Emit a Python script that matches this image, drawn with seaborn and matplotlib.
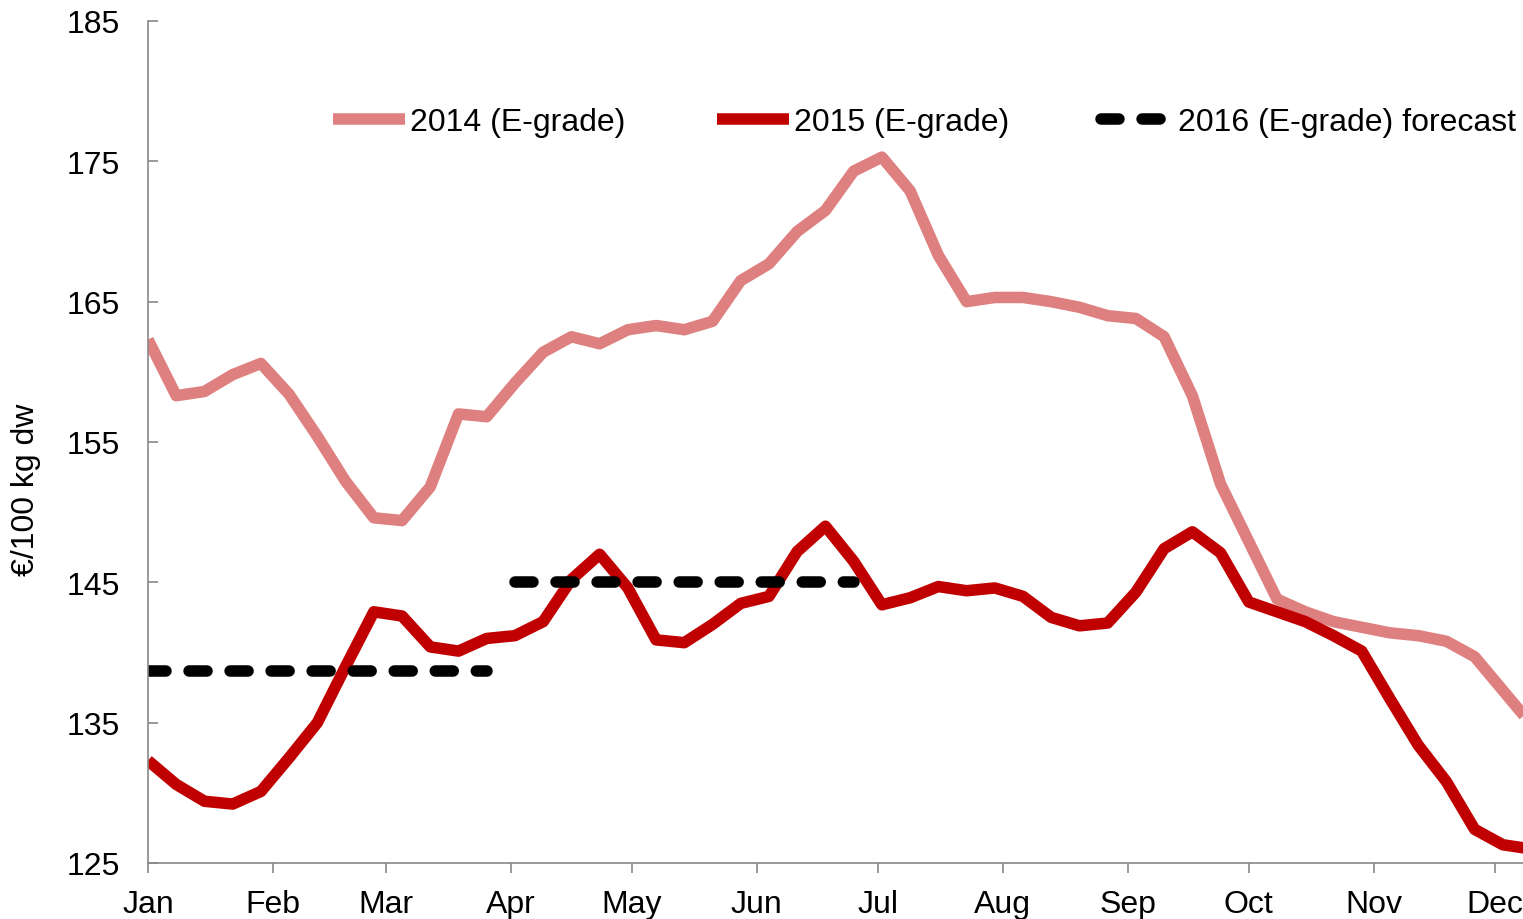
#!/usr/bin/env python3
"""
Weekly E-grade prices (2014, 2015) with the 2016 quarterly forecast.

Writes:
  out.png
"""

import pandas as pd
import seaborn as sns
import matplotlib.pyplot as plt


# weekly series, one value per week starting 1 Jan
price_2014 = [
    162.3, 158.3, 158.6, 159.8, 160.6, 158.4, 155.4, 152.2, 149.6, 149.4,
    151.8, 157.0, 156.8, 159.2, 161.4, 162.5, 162.0, 163.0, 163.3, 163.0,
    163.6, 166.5, 167.7, 170.0, 171.5, 174.3, 175.3, 172.9, 168.3, 165.0,
    165.3, 165.3, 165.0, 164.6, 164.0, 163.8, 162.5, 158.3, 152.0, 147.9,
    143.8, 142.9, 142.2, 141.8, 141.4, 141.2, 140.8, 139.7, 137.3, 134.9,
]
price_2015 = [
    132.3, 130.6, 129.4, 129.2, 130.1, 132.5, 135.0, 139.0, 142.9, 142.6,
    140.4, 140.1, 141.0, 141.2, 142.2, 145.2, 147.0, 144.6, 140.9, 140.7,
    142.0, 143.5, 144.0, 147.2, 149.0, 146.5, 143.4, 143.9, 144.7, 144.4,
    144.6, 144.0, 142.5, 141.9, 142.1, 144.3, 147.4, 148.6, 147.1, 143.6,
    142.9, 142.2, 141.2, 140.1, 136.7, 133.4, 130.8, 127.4, 126.3, 126.0,
]
# 2016 forecast: Q1 covers weeks 0-12, Q2 covers weeks 13-25
forecast_q1_weeks = list(range(0, 13))
forecast_q1 = [138.7] * 13
forecast_q2_weeks = list(range(13, 26))
forecast_q2 = [145.0] * 13

month_labels = ["Jan", "Feb", "Mar", "Apr", "May", "Jun",
                "Jul", "Aug", "Sep", "Oct", "Nov", "Dec"]
month_start_days = [0, 31, 59, 90, 120, 151, 181, 212, 243, 273, 304, 334]
y_ticks = [125, 135, 145, 155, 165, 175, 185]

FONT_SIZE = 23
LW = 8.3


def main():
    sns.set_theme(style="white")
    plt.rcParams["font.family"] = ["Liberation Sans", "DejaVu Sans"]

    weeks = range(len(price_2014))
    df = pd.DataFrame({
        "day": [7 * w for w in weeks],
        "p2014": price_2014,
        "p2015": price_2015,
    })
    fc1 = pd.DataFrame({"day": [7 * w for w in forecast_q1_weeks], "price": forecast_q1})
    fc2 = pd.DataFrame({"day": [7 * w for w in forecast_q2_weeks], "price": forecast_q2})

    fig = plt.figure(figsize=(15.23, 9.2), dpi=100)
    ax = fig.add_axes([148 / 1523, 1 - 864 / 920, 1 - 148 / 1523, (864 - 22) / 920])

    sns.lineplot(data=df, x="day", y="p2014", color="#df8080", linewidth=LW,
                 solid_capstyle="butt", label="2014 (E-grade)", ax=ax)
    sns.lineplot(data=df, x="day", y="p2015", color="#c00000", linewidth=LW,
                 solid_capstyle="butt", label="2015 (E-grade)", ax=ax)
    dash = (0, (1.56, 2.0))
    sns.lineplot(data=fc1, x="day", y="price", color="black", linewidth=LW,
                 linestyle=dash, dash_capstyle="round",
                 label="2016 (E-grade) forecast", ax=ax)
    sns.lineplot(data=fc2, x="day", y="price", color="black", linewidth=LW,
                 linestyle=dash, dash_capstyle="round", label="_nolegend_", ax=ax)

    ax.set_xlim(0, 341)
    ax.set_ylim(125, 185)
    ax.set_xticks(month_start_days)
    ax.set_xticklabels(month_labels)
    ax.set_yticks(y_ticks)

    spine_color = "#888888"
    for side in ["top", "right"]:
        ax.spines[side].set_visible(False)
    for side in ["left", "bottom"]:
        ax.spines[side].set_color(spine_color)
        ax.spines[side].set_linewidth(1.2)

    ax.tick_params(axis="x", bottom=True, direction="out", length=7, width=1.2,
                   color=spine_color, pad=12, labelsize=FONT_SIZE, labelcolor="black")
    ax.tick_params(axis="y", left=True, direction="in", length=7, width=1.2,
                   color=spine_color, pad=20.5, labelsize=FONT_SIZE, labelcolor="black")

    ax.set_xlabel("")
    ax.set_ylabel("€/100 kg dw", fontsize=FONT_SIZE, color="black")
    ax.yaxis.set_label_coords(-0.078, 0.444)

    ax.legend(
        loc="center left",
        bbox_to_anchor=(333 / 1523, 1 - 123 / 920),
        bbox_transform=fig.transFigure,
        ncol=3,
        frameon=False,
        fontsize=FONT_SIZE,
        labelcolor="black",
        handlelength=2.26,
        handletextpad=0.16,
        columnspacing=2.86,
        borderpad=0,
        borderaxespad=0,
    )

    fig.savefig("out.png", dpi=100)
    plt.close(fig)


if __name__ == "__main__":
    main()
